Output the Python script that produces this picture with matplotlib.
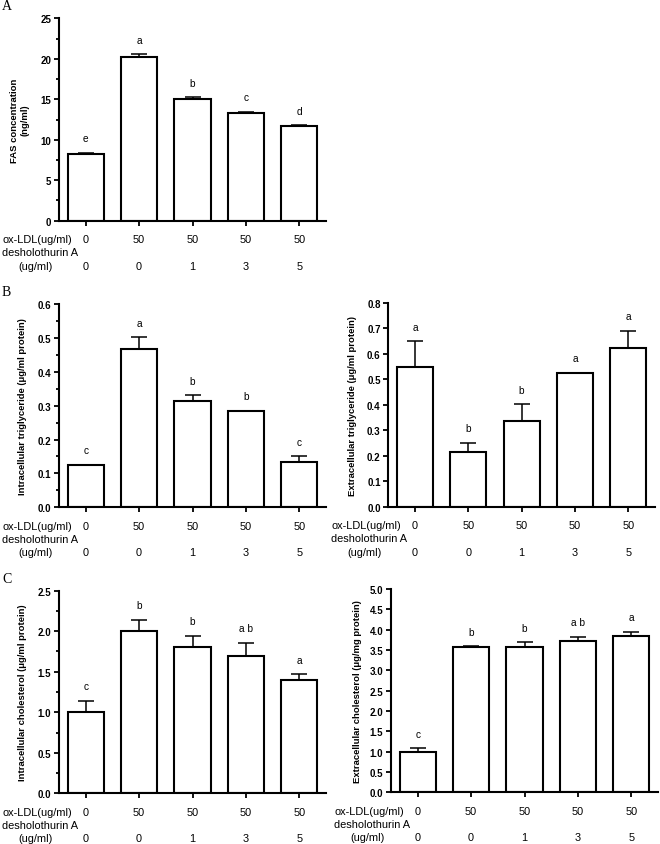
import numpy as np
import matplotlib
matplotlib.use('Agg')
from matplotlib import pyplot as plt

plt.rcParams['font.family'] = ['Liberation Sans', 'DejaVu Sans']

## Data ##
ox_ldl = ['0', '50', '50', '50', '50']
desholothurin = ['0', '0', '1', '3', '5']

fas_mean = [8.22, 20.2, 15.0, 13.3, 11.72]
fas_err = [0.15, 0.35, 0.25, 0.15, 0.08]
fas_letters = ['e', 'a', 'b', 'c', 'd']

intra_tg_mean = [0.125, 0.467, 0.313, 0.285, 0.133]
intra_tg_err = [0.0, 0.035, 0.017, 0.0, 0.017]
intra_tg_letters = ['c', 'a', 'b', 'b', 'c']

extra_tg_mean = [0.55, 0.215, 0.335, 0.525, 0.622]
extra_tg_err = [0.1, 0.035, 0.067, 0.0, 0.068]
extra_tg_letters = ['a', 'b', 'b', 'a', 'a']

intra_ch_mean = [1.0, 2.0, 1.8, 1.7, 1.4]
intra_ch_err = [0.14, 0.14, 0.14, 0.16, 0.07]
intra_ch_letters = ['c', 'b', 'b', 'a b', 'a']

extra_ch_mean = [1.0, 3.57, 3.57, 3.71, 3.85]
extra_ch_err = [0.08, 0.02, 0.12, 0.11, 0.1]
extra_ch_letters = ['c', 'b', 'b', 'a b', 'a']

W, H = 660, 845
fig = plt.figure(figsize=(W / 100, H / 100), dpi=100)


def px_axes(left, top, right, bottom):
    # axes box given in pixels of the 660x845 picture
    return fig.add_axes([left / W, 1 - bottom / H, (right - left) / W, (bottom - top) / H])


def bar_panel(ax, mean, err, letters, ymax, major, minor, ylabel, label_x):
    x = np.arange(len(mean))
    ax.bar(x, mean, width=0.68, color='white', edgecolor='black', linewidth=1.5, zorder=2)
    ax.errorbar(x, mean, yerr=[np.zeros(len(err)), err], fmt='none', ecolor='black',
                elinewidth=1.1, capsize=6, capthick=1.1, zorder=3)
    for xi, m, e, lt in zip(x, mean, err, letters):
        ax.annotate(lt, xy=(xi, m + e), xytext=(0, 10.5), textcoords='offset points',
                    ha='center', va='center', fontsize=7.3)
    ax.set_xlim(-0.5, 4.5)
    ax.set_ylim(0, ymax)
    ax.set_yticks(np.arange(0, ymax + major / 2, major))
    if minor:
        ax.set_yticks(np.arange(0, ymax + minor / 2, minor), minor=True)
    ax.set_xticks(x)
    ax.set_xticklabels([])
    if major < 1:
        ax.set_yticklabels(['%.1f' % v for v in np.arange(0, ymax + major / 2, major)])
    for lab in ax.get_yticklabels():
        lab.set_fontweight('bold')
    ax.tick_params(axis='y', labelsize=7, width=1.3, length=3.5, pad=2)
    ax.tick_params(axis='y', which='minor', width=1.3, length=2)
    ax.tick_params(axis='x', width=1.3, length=3.5)
    ax.spines['top'].set_visible(False)
    ax.spines['right'].set_visible(False)
    ax.spines['left'].set_linewidth(1.5)
    ax.spines['bottom'].set_linewidth(1.5)
    ax.set_ylabel(ylabel, fontsize=6.8, fontweight='bold', multialignment='center')
    ax.yaxis.set_label_coords(label_x, 0.5)

    # treatment rows under the axis
    for xi, a, b in zip(x, ox_ldl, desholothurin):
        ax.annotate(a, xy=(xi, 0), xycoords=('data', 'axes fraction'), xytext=(0, -13.2),
                    textcoords='offset points', ha='center', va='center', fontsize=7.8)
        ax.annotate(b, xy=(xi, 0), xycoords=('data', 'axes fraction'), xytext=(0, -32.4),
                    textcoords='offset points', ha='center', va='center', fontsize=7.8)
    ax.annotate('ox-LDL(ug/ml)', xy=(0, 0), xycoords='axes fraction', xytext=(-41, -13.2),
                textcoords='offset points', ha='left', va='center', fontsize=7.9)
    ax.annotate('desholothurin A', xy=(0, 0), xycoords='axes fraction', xytext=(-41, -22.8),
                textcoords='offset points', ha='left', va='center', fontsize=7.9)
    ax.annotate('(ug/ml)', xy=(0, 0), xycoords='axes fraction', xytext=(-29.5, -32.4),
                textcoords='offset points', ha='left', va='center', fontsize=7.9)


## Panel A
axA = px_axes(59, 19.3, 326, 221.7)
bar_panel(axA, fas_mean, fas_err, fas_letters, 25, 5, 2.5,
          'FAS concentration\n(ng/ml)', -0.109)

## Panel B
axB1 = px_axes(59, 305, 326, 508.3)
bar_panel(axB1, intra_tg_mean, intra_tg_err, intra_tg_letters, 0.6, 0.1, 0.05,
          'Intracellular triglyceride (μg/ml protein)', -0.12)
axB2 = px_axes(388.3, 304, 655, 507.7)
bar_panel(axB2, extra_tg_mean, extra_tg_err, extra_tg_letters, 0.8, 0.1, None,
          'Extracellular triglyceride (μg/ml protein)', -0.118)

## Panel C
axC1 = px_axes(59, 591.7, 326, 794.3)
bar_panel(axC1, intra_ch_mean, intra_ch_err, intra_ch_letters, 2.5, 0.5, 0.25,
          'Intracellular cholesterol (μg/ml protein)', -0.12)
axC2 = px_axes(391, 590, 658, 793.3)
bar_panel(axC2, extra_ch_mean, extra_ch_err, extra_ch_letters, 5.0, 0.5, None,
          'Extracellular cholesterol (μg/mg protein)', -0.11)

## Panel letters
for letter, ypx in zip(['A', 'B', 'C'], [7, 293, 580]):
    fig.text(2 / W, 1 - ypx / H, letter, family='Liberation Serif', fontsize=10,
             ha='left', va='center')

plt.savefig('out.png', dpi=100)
